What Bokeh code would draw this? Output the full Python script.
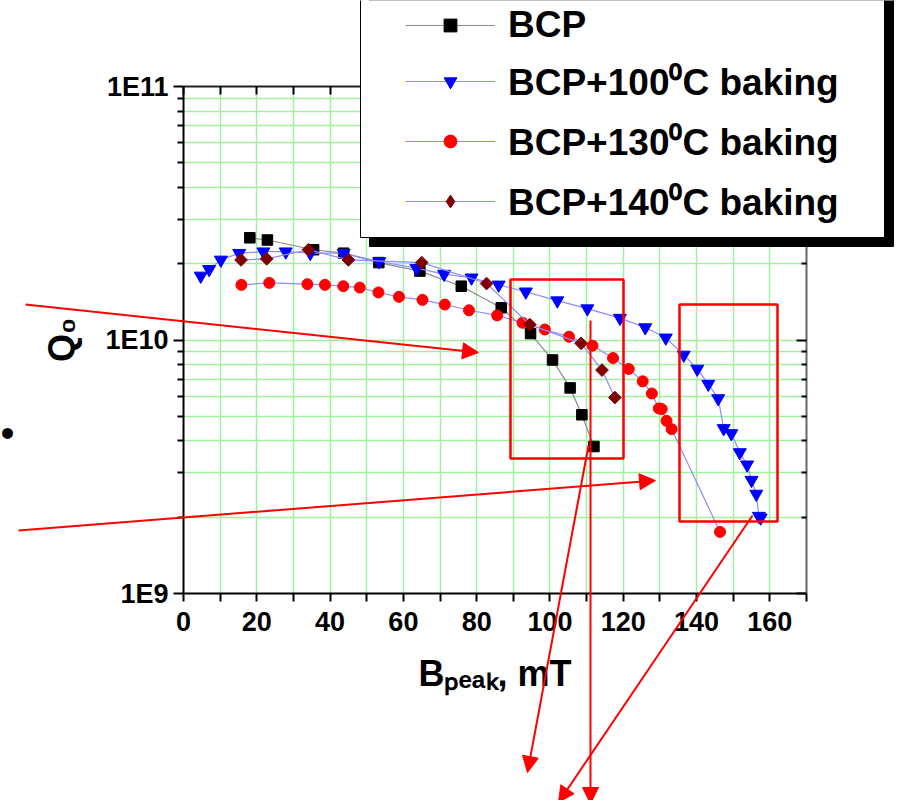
from bokeh.plotting import figure
from bokeh.models import (FixedTicker, LinearAxis, LogAxis, CustomJSTickFormatter, Legend,
                          LegendItem, Arrow, NormalHead, BoxAnnotation, Range1d, Label)
from bokeh.embed import file_html
from bokeh.resources import INLINE

# ---------------- data ----------------
bcp_b = [18.1, 22.9, 35.5, 43.7, 53.3, 64.5, 75.8, 86.7, 94.7, 100.7, 105.5, 108.7, 112.0]
bcp_q = [2.53e10, 2.48e10, 2.27e10, 2.20e10, 2.02e10, 1.87e10, 1.63e10, 1.34e10, 1.06e10,
         8.34e9, 6.47e9, 5.07e9, 3.80e9]

b100_b = [4.7, 7.0, 10.2, 15.2, 21.8, 27.9, 34.6, 43.7, 53.4, 63.6, 71.1, 78.6, 86.0, 93.4,
          102.0, 110.2, 119.1, 126.0, 131.6, 136.5, 140.2, 143.2, 145.9, 147.4, 149.5, 151.8,
          153.8, 155.0, 156.3, 157.0, 157.5]
b100_q = [1.79e10, 1.90e10, 2.07e10, 2.20e10, 2.23e10, 2.23e10, 2.20e10, 2.20e10, 2.04e10,
          1.92e10, 1.82e10, 1.76e10, 1.65e10, 1.55e10, 1.43e10, 1.33e10, 1.22e10, 1.12e10,
          1.02e10, 8.73e9, 7.69e9, 6.70e9, 5.88e9, 4.48e9, 4.28e9, 3.60e9, 3.22e9, 2.80e9,
          2.47e9, 2.02e9, 1.99e9]

b130_b = [15.8, 23.4, 33.8, 38.6, 43.6, 48.1, 53.2, 58.8, 65.2, 71.3, 77.9, 85.6, 92.5, 98.6,
          105.2, 111.6, 117.2, 121.5, 125.3, 127.8, 129.7, 130.5, 131.8, 133.2, 146.4]
b130_q = [1.65e10, 1.68e10, 1.66e10, 1.65e10, 1.63e10, 1.61e10, 1.54e10, 1.48e10, 1.44e10,
          1.38e10, 1.31e10, 1.25e10, 1.17e10, 1.10e10, 1.03e10, 9.5e9, 8.49e9, 7.69e9, 6.87e9,
          6.15e9, 5.37e9, 5.34e9, 4.80e9, 4.45e9, 1.75e9]

b140_b = [15.7, 22.7, 34.1, 45.0, 65.0, 82.7, 94.5, 108.5, 114.2, 117.7]
b140_q = [2.07e10, 2.09e10, 2.27e10, 2.07e10, 2.02e10, 1.67e10, 1.15e10, 9.7e9, 7.61e9, 5.93e9]

labels = ["BCP", "BCP+100\u2070C baking", "BCP+130\u2070C baking", "BCP+140\u2070C baking"]

x_major = [0, 20, 40, 60, 80, 100, 120, 140, 160]
x_minor = [10, 30, 50, 70, 90, 110, 130, 150, 170]
x_tens = sorted(x_major + x_minor)
y_major = [1e9, 1e10, 1e11]
y_minor = [m * 10 ** e for e in (9, 10) for m in range(2, 10)]

FONT = "Liberation Sans"
GRID = "#a0f0a0"
LB = "#8c8cff"
RED = "#ff0000"

# ---------------- main chart ----------------
W, H = 900, 800
FW, FH = 623, 507
ML, MT = 183, 86
MR, MB = W - ML - FW, H - MT - FH

p = figure(x_range=Range1d(0, 170), y_range=Range1d(1e9, 1e11), y_axis_type="log",
           frame_width=FW, frame_height=FH,
           min_border_left=ML, min_border_right=MR, min_border_top=MT, min_border_bottom=MB,
           output_backend="svg", toolbar_location=None,
           background_fill_color="white", border_fill_color="white")
p.outline_line_color = None

xt = FixedTicker(ticks=x_major, minor_ticks=x_minor)
yt = FixedTicker(ticks=y_major, minor_ticks=y_minor)
blank = CustomJSTickFormatter(code="return ''")

xa = p.xaxis[0]
xa.ticker = xt
xa.axis_label = "B\u209a\u2091\u2090\u2096, mT"
xa.axis_line_width = 2
xa.axis_line_color = "black"
xa.major_tick_out = 8
xa.major_tick_in = 0
xa.minor_tick_out = 8
xa.minor_tick_in = 0
xa.major_tick_line_width = 2
xa.minor_tick_line_width = 2
xa.major_label_text_font = FONT
xa.major_label_text_font_style = "bold"
xa.major_label_text_font_size = "27px"
xa.major_label_text_color = "black"
xa.major_label_standoff = 10
xa.axis_label_text_font = FONT
xa.axis_label_text_font_style = "bold"
xa.axis_label_text_font_size = "36px"
xa.axis_label_text_color = "black"
xa.axis_label_standoff = 19

ya = p.yaxis[0]
ya.ticker = yt
ya.formatter = CustomJSTickFormatter(code="return '1E' + Math.round(Math.log10(tick));")
ya.axis_label = "Q\u2080"
ya.axis_line_width = 2
ya.axis_line_color = "black"
ya.major_tick_out = 10
ya.major_tick_in = 0
ya.minor_tick_out = 6
ya.minor_tick_in = 0
ya.major_tick_line_width = 2
ya.minor_tick_line_width = 2
ya.major_label_text_font = FONT
ya.major_label_text_font_style = "bold"
ya.major_label_text_font_size = "27px"
ya.major_label_text_color = "black"
ya.major_label_standoff = 5
ya.axis_label_text_font = FONT
ya.axis_label_text_font_style = "bold"
ya.axis_label_text_font_size = "36px"
ya.axis_label_text_color = "black"
ya.axis_label_standoff = 20

top = LinearAxis(ticker=FixedTicker(ticks=x_tens), formatter=blank,
                 major_tick_in=8, major_tick_out=0, major_tick_line_width=2,
                 minor_tick_line_color=None, axis_line_color="#222222", axis_line_width=2)
p.add_layout(top, "above")
right = LogAxis(ticker=yt, formatter=blank, major_tick_in=10, major_tick_out=0,
                minor_tick_in=5, minor_tick_out=0, major_tick_line_width=2,
                minor_tick_line_width=2, axis_line_color="#666666", axis_line_width=2)
p.add_layout(right, "right")

for g in (p.xgrid[0], p.ygrid[0]):
    g.grid_line_color = GRID
    g.grid_line_width = 1.5
    g.minor_grid_line_color = GRID
    g.minor_grid_line_width = 1.5
p.xgrid[0].ticker = xt
p.ygrid[0].ticker = yt

p.line(bcp_b, bcp_q, line_color="#8a8a8a", line_width=1.2)
p.scatter(bcp_b, bcp_q, marker="square", size=10.5, color="black")
p.line(b100_b, b100_q, line_color=LB, line_width=1.2)
p.scatter(b100_b, b100_q, marker="inverted_triangle", size=13, color="#0000ff")
p.line(b130_b, b130_q, line_color=LB, line_width=1.2)
p.scatter(b130_b, b130_q, marker="circle", size=11, color=RED)
p.line(b140_b, b140_q, line_color=LB, line_width=1.2)
p.scatter(b140_b, b140_q, marker="square", angle=0.785398, size=9, color="#800000")

# ---------------- slide overlay (legend box, red marks) in page pixels ----------------
o = figure(x_range=Range1d(0, W), y_range=Range1d(H, 0), frame_width=W, frame_height=H,
           min_border=0, x_axis_location=None, y_axis_location=None,
           output_backend="svg", toolbar_location=None,
           background_fill_color=None, border_fill_color=None,
           styles={"position": "absolute", "left": "0px", "top": "0px"})
o.outline_line_color = None
o.grid.grid_line_color = None

# legend frame with its drop shadow
o.add_layout(BoxAnnotation(left=369, right=893, top=-20, bottom=246,
                           fill_color="black", fill_alpha=1, line_color="black", line_alpha=1))
o.add_layout(BoxAnnotation(left=360, right=884, top=-20, bottom=237,
                           fill_color="white", fill_alpha=1, line_color="black",
                           line_alpha=1, line_width=1))

# legend entries (styled like the series); their single points lie off-canvas
OFF = [-500]
d1 = o.line(OFF, OFF, line_color="#8a8a8a", line_width=1.2)
m1 = o.scatter(OFF, OFF, marker="square", color="black")
d2 = o.line(OFF, OFF, line_color=LB, line_width=1.2)
m2 = o.scatter(OFF, OFF, marker="inverted_triangle", color="#0000ff")
d3 = o.line(OFF, OFF, line_color=LB, line_width=1.2)
m3 = o.scatter(OFF, OFF, marker="circle", color=RED)
d4 = o.line(OFF, OFF, line_color=LB, line_width=1.2)
m4 = o.scatter(OFF, OFF, marker="diamond", color="#800000")

legend = Legend(items=[LegendItem(label=labels[0], renderers=[d1, m1]),
                       LegendItem(label=labels[1], renderers=[d2, m2]),
                       LegendItem(label=labels[2], renderers=[d3, m3]),
                       LegendItem(label=labels[3], renderers=[d4, m4])],
                location=(405, H - 226), margin=0, padding=0,
                glyph_width=90, glyph_height=32, label_height=30, label_standoff=13,
                spacing=9, background_fill_alpha=0, border_line_color=None,
                label_text_font=FONT, label_text_font_style="bold",
                label_text_font_size="37px", label_text_color="black")
o.add_layout(legend, "center")

# red boxes
for (x0, y0, x1, y1) in [(510, 279, 623, 458), (679, 304, 777, 521)]:
    o.add_layout(BoxAnnotation(left=x0, right=x1, top=y0, bottom=y1, fill_alpha=0,
                               line_color=RED, line_alpha=1, line_width=2.5))

# red arrows
for (xs, ys, xe, ye) in [(25, 304, 478, 352), (18, 530, 655, 480), (590, 320, 590, 803),
                         (588, 445, 527, 772), (752, 515, 558, 802)]:
    o.add_layout(Arrow(end=NormalHead(size=16, fill_color=RED, line_color=RED),
                       x_start=xs, y_start=ys, x_end=xe, y_end=ye,
                       line_color=RED, line_width=2))

# slide bullet at the left edge
o.add_layout(Label(x=0, y=432, text="\u2022", text_font=FONT, text_font_size="40px",
                   text_color="black", text_align="left", text_baseline="middle"))

open("out.html", "w").write(file_html([p, o], INLINE))
